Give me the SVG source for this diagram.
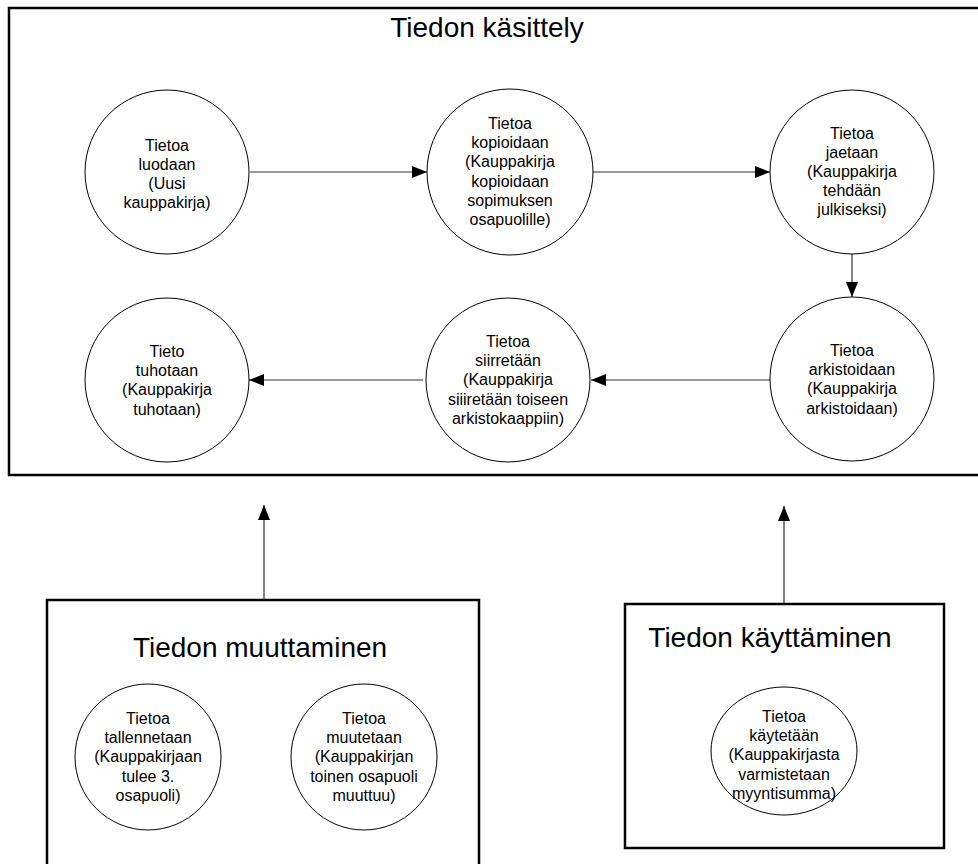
<svg xmlns="http://www.w3.org/2000/svg" width="978" height="864" viewBox="0 0 978 864">
<defs>
<marker id="arr" markerUnits="userSpaceOnUse" markerWidth="15" markerHeight="12" refX="15" refY="6" orient="auto">
<path d="M0,0 L15,6 L0,12 z" fill="#000"/>
</marker>
<style>
.box{fill:none;stroke:#000;stroke-width:2.5}
.c{fill:#fff;stroke:#000;stroke-width:1}
.t{font-family:"Liberation Sans",Arial,sans-serif;font-size:16px;text-anchor:middle;fill:#000}
.h{font-family:"Liberation Sans",Arial,sans-serif;font-size:28px;text-anchor:middle;fill:#000}
.e{stroke:#333;stroke-width:1.2;fill:none;marker-end:url(#arr)}
</style>
</defs>
<rect width="978" height="864" fill="#fff"/>
<g id="kasittely">
<rect class="box" x="9" y="8" width="990" height="467"/>
<text class="h" x="487" y="37">Tiedon käsittely</text>
</g>
<g id="muuttaminen">
<rect class="box" x="47" y="600" width="432" height="300"/>
<text class="h" x="260" y="657">Tiedon muuttaminen</text>
</g>
<g id="kayttaminen">
<rect class="box" x="625" y="604" width="319" height="244"/>
<text class="h" x="770" y="647">Tiedon käyttäminen</text>
</g>
<g id="connectors">
<line class="e" x1="250" y1="172" x2="427" y2="172"/>
<line class="e" x1="593" y1="172" x2="770" y2="172"/>
<line class="e" x1="852" y1="254" x2="852" y2="297"/>
<line class="e" x1="771" y1="380" x2="591" y2="380"/>
<line class="e" x1="423" y1="380" x2="249" y2="380"/>
<line class="e" x1="264" y1="600" x2="264" y2="505"/>
<line class="e" x1="784" y1="604" x2="784" y2="506"/>
</g>
<g id="luodaan">
<circle class="c" cx="167" cy="172" r="82"/>
<text class="t" x="167" y="150.5">Tietoa<tspan x="167" dy="19.2">luodaan</tspan><tspan x="167" dy="19.2">(Uusi</tspan><tspan x="167" dy="19.2">kauppakirja)</tspan></text>
</g>
<g id="kopioidaan">
<circle class="c" cx="510" cy="172" r="83"/>
<text class="t" x="510" y="129">Tietoa<tspan x="510" dy="19.2">kopioidaan</tspan><tspan x="510" dy="19.2">(Kauppakirja</tspan><tspan x="510" dy="19.2">kopioidaan</tspan><tspan x="510" dy="19.2">sopimuksen</tspan><tspan x="510" dy="19.2">osapuolille)</tspan></text>
</g>
<g id="jaetaan">
<circle class="c" cx="852" cy="172" r="82"/>
<text class="t" x="852" y="138.5">Tietoa<tspan x="852" dy="19.2">jaetaan</tspan><tspan x="852" dy="19.2">(Kauppakirja</tspan><tspan x="852" dy="19.2">tehdään</tspan><tspan x="852" dy="19.2">julkiseksi)</tspan></text>
</g>
<g id="arkistoidaan">
<circle class="c" cx="852" cy="379" r="82"/>
<text class="t" x="852" y="356">Tietoa<tspan x="852" dy="19.2">arkistoidaan</tspan><tspan x="852" dy="19.2">(Kauppakirja</tspan><tspan x="852" dy="19.2">arkistoidaan)</tspan></text>
</g>
<g id="siirretaan">
<circle class="c" cx="508" cy="380" r="82"/>
<text class="t" x="508" y="347">Tietoa<tspan x="508" dy="19.2">siirretään</tspan><tspan x="508" dy="19.2">(Kauppakirja</tspan><tspan x="508" dy="19.2">siiiretään toiseen</tspan><tspan x="508" dy="19.2">arkistokaappiin)</tspan></text>
</g>
<g id="tuhotaan">
<circle class="c" cx="167" cy="380" r="82"/>
<text class="t" x="167" y="357">Tieto<tspan x="167" dy="19.2">tuhotaan</tspan><tspan x="167" dy="19.2">(Kauppakirja</tspan><tspan x="167" dy="19.2">tuhotaan)</tspan></text>
</g>
<g id="tallennetaan">
<circle class="c" cx="148" cy="757" r="73"/>
<text class="t" x="148" y="724">Tietoa<tspan x="148" dy="19.2">tallennetaan</tspan><tspan x="148" dy="19.2">(Kauppakirjaan</tspan><tspan x="148" dy="19.2">tulee 3.</tspan><tspan x="148" dy="19.2">osapuoli)</tspan></text>
</g>
<g id="muutetaan">
<circle class="c" cx="364" cy="757" r="73"/>
<text class="t" x="364" y="724">Tietoa<tspan x="364" dy="19.2">muutetaan</tspan><tspan x="364" dy="19.2">(Kauppakirjan</tspan><tspan x="364" dy="19.2">toinen osapuoli</tspan><tspan x="364" dy="19.2">muuttuu)</tspan></text>
</g>
<g id="kaytetaan">
<ellipse class="c" cx="784" cy="751" rx="73" ry="64"/>
<text class="t" x="784" y="722">Tietoa<tspan x="784" dy="19.2">käytetään</tspan><tspan x="784" dy="19.2">(Kauppakirjasta</tspan><tspan x="784" dy="19.2">varmistetaan</tspan><tspan x="784" dy="19.2">myyntisumma)</tspan></text>
</g>
</svg>
